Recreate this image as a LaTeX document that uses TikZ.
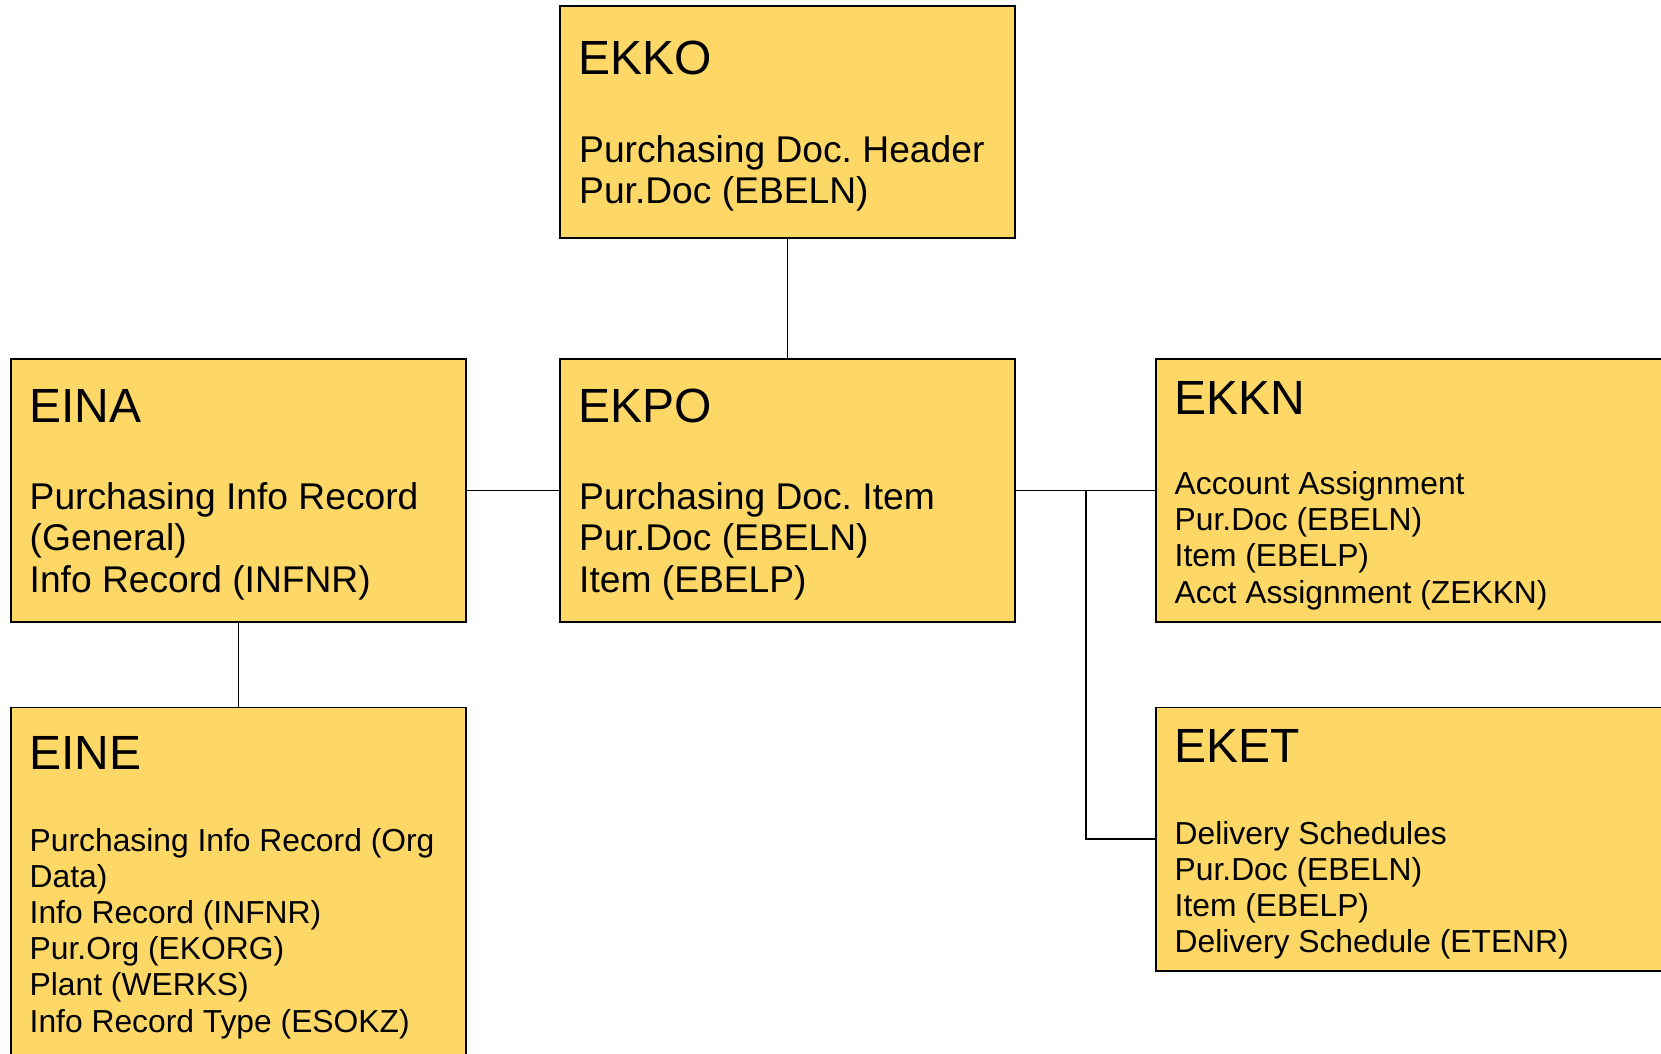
\documentclass[tikz,border=0pt]{standalone}
\usepackage{fontspec}
\setmainfont{Liberation Sans}
\frenchspacing
\definecolor{boxfill}{HTML}{FDD866}
\begin{document}
\begin{tikzpicture}[x=1pt,y=-1pt,
  tbl/.style={draw=black, fill=boxfill, line width=1.6pt, rectangle, anchor=north west, inner sep=0pt, outer sep=0pt},
  ttl/.style={anchor=base west, inner sep=0pt, font=\fontsize{48}{55}\selectfont},
  bigbody/.style={anchor=base west, inner sep=0pt, font=\fontsize{37.2}{41.5}\selectfont},
  smallbody/.style={anchor=base west, inner sep=0pt, font=\fontsize{31.8}{36.2}\selectfont},
  link/.style={draw=black, line width=1.6pt}]
\useasboundingbox (0,0) rectangle (1661,1053);
\clip (0,0) rectangle (1661,1053);
% boxes
\node[tbl, minimum width=455pt, minimum height=231.7pt] (ekko) at (560,6) {};
\node[tbl, minimum width=455pt, minimum height=263pt] (eina) at (11,359) {};
\node[tbl, minimum width=455pt, minimum height=263pt] (ekpo) at (560,359) {};
\node[tbl, minimum width=560pt, minimum height=263pt] (ekkn) at (1156,359) {};
\node[tbl, minimum width=455pt, minimum height=420pt] (eine) at (11,707.3) {};
\node[tbl, minimum width=560pt, minimum height=263.4pt] (eket) at (1156,707.3) {};
% texts
\node[ttl] (ekkot) at (578.5,74) {EKKO};
\node[bigbody] (ekkob) at (579,162.3) {\begin{tabular}[t]{@{}l@{}}Purchasing Doc. Header\\Pur.Doc (EBELN)\end{tabular}};
\node[ttl] (einat) at (29,422.7) {EINA};
\node[bigbody] (einab) at (29.5,509) {\begin{tabular}[t]{@{}l@{}}Purchasing Info Record\\(General)\\Info Record (INFNR)\end{tabular}};
\node[ttl] (ekpot) at (578.5,422.7) {EKPO};
\node[bigbody] (ekpob) at (579,509) {\begin{tabular}[t]{@{}l@{}}Purchasing Doc. Item\\Pur.Doc (EBELN)\\Item (EBELP)\end{tabular}};
\node[ttl] (ekknt) at (1174,414.5) {EKKN};
\node[smallbody] (ekknb) at (1174.5,494.5) {\begin{tabular}[t]{@{}l@{}}Account Assignment\\Pur.Doc (EBELN)\\Item (EBELP)\\Acct Assignment (ZEKKN)\end{tabular}};
\node[ttl] (eketent) at (1174,762) {EKET};
\node[smallbody] (eketb) at (1174.5,844) {\begin{tabular}[t]{@{}l@{}}Delivery Schedules\\Pur.Doc (EBELN)\\Item (EBELP)\\Delivery Schedule (ETENR)\end{tabular}};
\node[ttl] (einet) at (29,769.3) {EINE};
\node[smallbody] (eineb) at (29.5,851) {\begin{tabular}[t]{@{}l@{}}Purchasing Info Record (Org\\Data)\\Info Record (INFNR)\\Pur.Org (EKORG)\\Plant (WERKS)\\Info Record Type (ESOKZ)\end{tabular}};
% connectors
\coordinate (br) at (1086,490.5);
\draw[link] (ekko.south) -- (ekpo.north);
\draw[link] (eina.east) -- (ekpo.west);
\draw[link] (ekpo.east) -- (ekkn.west);
\draw[link] (br) |- (eket.west);
\draw[link] (eina.south) -- (eine.north);
\end{tikzpicture}
\end{document}
